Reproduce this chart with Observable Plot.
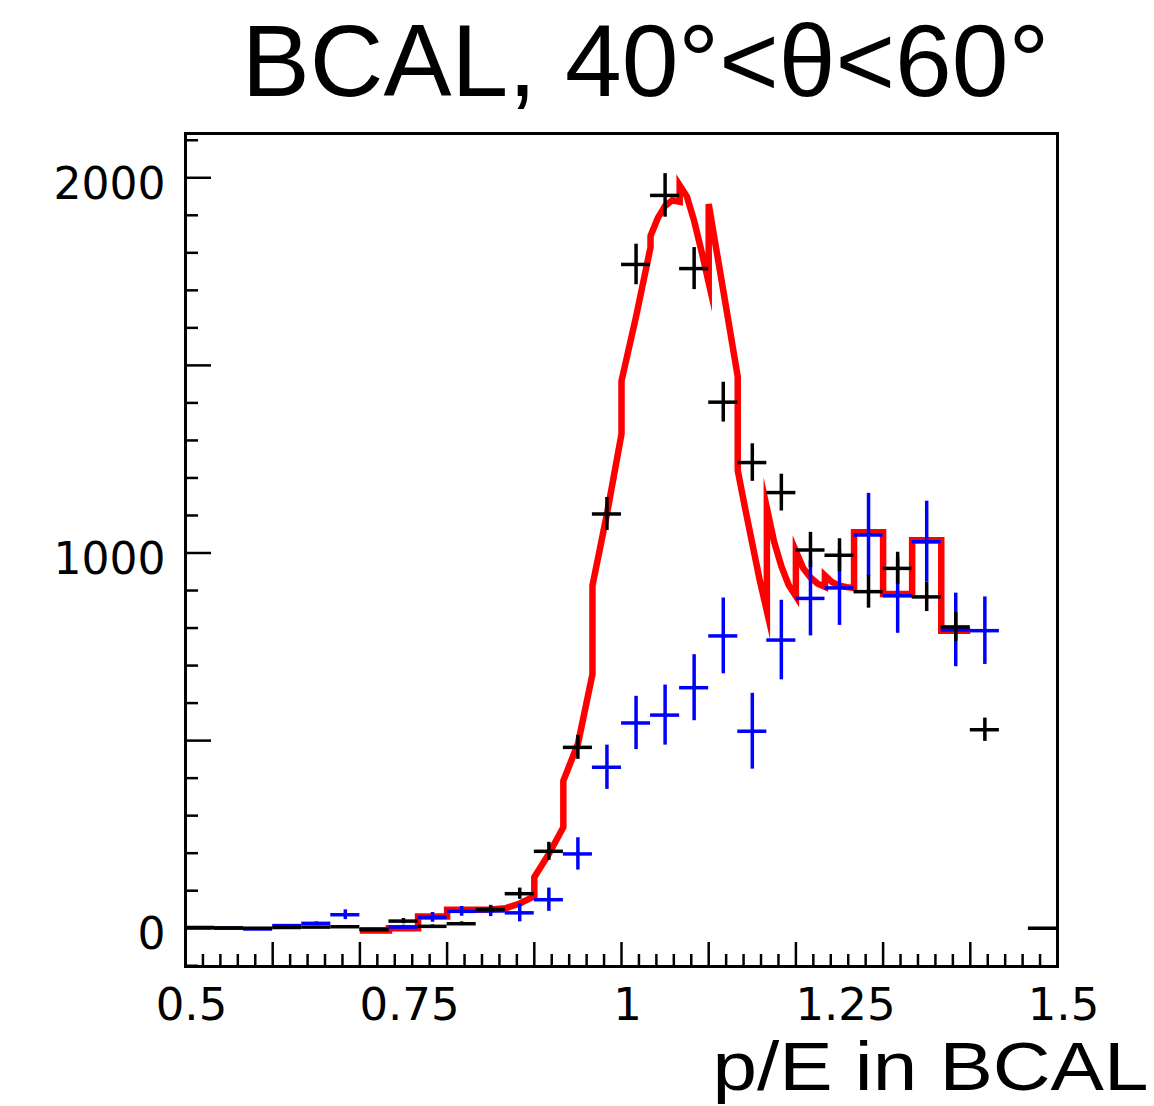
<!DOCTYPE html>
<html><head><meta charset="utf-8">
<script src="https://cdn.jsdelivr.net/npm/d3@7"></script>
<script src="https://cdn.jsdelivr.net/npm/@observablehq/plot@0.6"></script>
<style>body{margin:0;background:#fff} svg{display:block}</style>
</head><body><div id="chart"></div>
<script>
// ---- data ----
const titleText = "BCAL, 40°<θ<60°";
const xTitle = "p/E in BCAL";
const xTickLabels = [0.5, 0.75, 1, 1.25, 1.5];
const yTickLabels = [0, 1000, 2000];
const xMajorTicks = [0.5, 0.6, 0.7, 0.8, 0.9, 1.0, 1.1, 1.2, 1.3, 1.4, 1.5];
const yMajorTicks = [0, 500, 1000, 1500, 2000];
const binWidth = 1 / 30;
const binCenters = [0.5167, 0.55, 0.5833, 0.6167, 0.65, 0.6833, 0.7167, 0.75, 0.7833, 0.8167,
  0.85, 0.8833, 0.9167, 0.95, 0.9833, 1.0167, 1.05, 1.0833, 1.1167, 1.15,
  1.1833, 1.2167, 1.25, 1.2833, 1.3167, 1.35, 1.3833, 1.4167, 1.45, 1.4833];
const blackValues = [2, 1, 0, 2, 3, 4, -4, 19, 5, 12, 50, 92, 205, 482, 1104, 1769, 1953, 1758, 1402, 1241,
  1161, 1008, 994, 897, 959, 883, 803, 529, null, 0];
const blackErrors = [2, 2, 2, 2, 2, 2, 3, 7, 4, 5, 8, 15, 24, 32, 44, 54, 58, 56, 53, 50,
  49, 47, 44, 44, 43, 39, 39, 31, null, 0];
const blueValues = [1, 0, -2, 7, 13, 36, -2, 3, 29, 45, 46, 41, 76, 198, 429, 547, 568, 641, 779, 525,
  768, 879, 907, 1048, 886, 1030, 795, 793, null, null];
const blueErrors = [1, 1, 1, 3, 4, 13, 2, 5, 13, 13, 15, 24, 31, 43, 59, 71, 80, 88, 101, 101,
  106, 100, 100, 111, 100, 108, 98, 90, null, null];
const redX = [0.7, 0.7333, 0.7333, 0.7667, 0.7667, 0.8, 0.8, 0.8333, 0.85, 0.8667, 0.8833, 0.9, 0.9,
  0.9167, 0.9333, 0.9333, 0.95, 0.9667, 0.9667, 0.9833, 1.0, 1.0, 1.0167, 1.0333, 1.0333,
  1.0417, 1.05, 1.0583, 1.0667, 1.0667, 1.075, 1.0833, 1.0917, 1.1, 1.1,
  1.1083, 1.1167, 1.125, 1.1333, 1.1333, 1.1417, 1.15, 1.1583, 1.1667, 1.1667,
  1.175, 1.1833, 1.1917, 1.2, 1.2, 1.2083, 1.2167, 1.225, 1.2333, 1.2333,
  1.2417, 1.25, 1.2583, 1.2667, 1.2667, 1.3, 1.3, 1.3333, 1.3333, 1.3667, 1.3667, 1.4];
const redY = [-6, -6, 0, 0, 31, 31, 49, 49, 50, 53, 66, 85, 136,
  198, 269, 393, 491, 677, 913, 1104, 1317, 1459, 1630, 1815, 1845,
  1893, 1925, 1940, 1936, 1980, 1950, 1885, 1805, 1720, 1930,
  1815, 1700, 1585, 1470, 1220, 1120, 1025, 930, 845, 1120,
  1030, 965, 915, 885, 1005, 960, 935, 918, 910, 940,
  922, 913, 909, 907, 1055, 1055, 891, 891, 1034, 1034, 793, 793];

// ---- build tables ----
const mk = (vals, errs) => binCenters.map((c, i) => ({c, lo: c - binWidth / 2, hi: c + binWidth / 2, v: vals[i], e: errs[i]}))
  .filter(d => d.v != null);
const black = mk(blackValues, blackErrors);
const blue = mk(blueValues, blueErrors);
const red = redX.map((x, i) => ({x, y: redY[i]}));
const xMinor = d3.range(0, 51).map(i => 0.5 + i * 0.02).filter(v => !xMajorTicks.some(m => Math.abs(m - v) < 1e-6));
const yMinor = d3.range(-100, 2101, 100).filter(v => v % 500 !== 0);

const W = 1154, H = 1106, mL = 185, mR = 97, mT = 133, mB = 140;
const fw = W - mL - mR, fh = H - mT - mB;
const font = "'Liberation Sans', Arial, Helvetica, sans-serif";
const tickFont = "'DejaVu Sans', 'Liberation Sans', sans-serif";

const chart = Plot.plot({
  width: W, height: H,
  marginLeft: mL, marginRight: mR, marginTop: mT, marginBottom: mB,
  style: {fontFamily: font, background: "white", color: "black"},
  x: {domain: [0.5, 1.5]},
  y: {domain: [-102, 2118]},
  marks: [
    Plot.line(red, {x: "x", y: "y", stroke: "#ff0000", strokeWidth: 6.5, strokeLinejoin: "miter", strokeMiterlimit: 10, strokeLinecap: "butt"}),
    Plot.ruleY(blue, {y: "v", x1: "lo", x2: "hi", stroke: "#0000ff", strokeWidth: 3.5}),
    Plot.ruleX(blue.filter(d => d.e > 0), {x: "c", y1: d => d.v - d.e, y2: d => d.v + d.e, stroke: "#0000ff", strokeWidth: 3.5}),
    Plot.ruleY(black, {y: "v", x1: "lo", x2: "hi", stroke: "black", strokeWidth: 3.5}),
    Plot.ruleX(black.filter(d => d.e > 0), {x: "c", y1: d => d.v - d.e, y2: d => d.v + d.e, stroke: "black", strokeWidth: 3.5}),
    Plot.ruleX(xMinor, {x: d => d, insetTop: fh - 12, stroke: "black", strokeWidth: 2.5}),
    Plot.ruleX(xMajorTicks, {x: d => d, insetTop: fh - 24, stroke: "black", strokeWidth: 2.5}),
    Plot.ruleY(yMinor, {y: d => d, insetRight: fw - 13, stroke: "black", strokeWidth: 2.5}),
    Plot.ruleY(yMajorTicks, {y: d => d, insetRight: fw - 26, stroke: "black", strokeWidth: 2.5}),
    Plot.frame({stroke: "black", strokeWidth: 3}),
    Plot.axisX({ticks: xTickLabels, tickSize: 0, tickPadding: 22, dx: 6, fontSize: 45, fontFamily: tickFont, tickFormat: d => String(d), label: null}),
    Plot.axisY({ticks: yTickLabels, tickSize: 0, tickPadding: 20, fontSize: 44, dy: 7, fontFamily: tickFont, tickFormat: d => String(d), label: null}),
    Plot.text([titleText], {text: d => d, frameAnchor: "top", dx: 24, dy: -38, lineAnchor: "bottom", fontSize: 102, fill: "black"}),
    Plot.text([xTitle], {text: d => d, frameAnchor: "bottom-right", textAnchor: "end", dx: 91, dy: 123, lineAnchor: "bottom", fontSize: 69, fill: "black", className: "xtitle"})
  ]
});
document.getElementById("chart").appendChild(chart);
// stretch the axis title horizontally to the width it has in the reference
const xt = chart.querySelector(".xtitle text");
if (xt) { xt.setAttribute("textLength", 436); xt.setAttribute("lengthAdjust", "spacingAndGlyphs"); }
</script>
</body></html>
